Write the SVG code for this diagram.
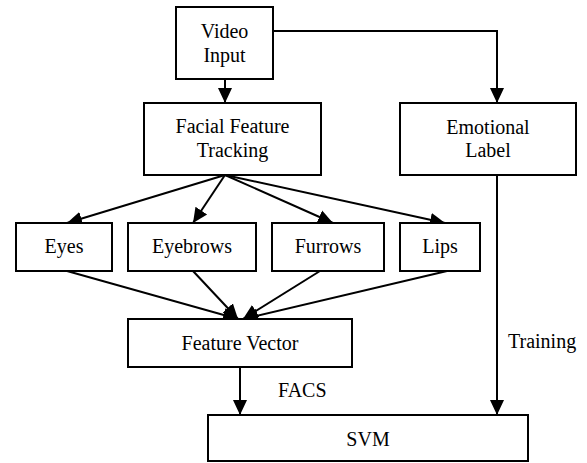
<svg xmlns="http://www.w3.org/2000/svg" width="587" height="463" viewBox="0 0 587 463">
<defs>
<marker id="arr" markerUnits="userSpaceOnUse" markerWidth="16" markerHeight="16" refX="15" refY="8" orient="auto" viewBox="0 0 16 16">
<path d="M0,1 L15,8 L0,15 z" fill="#000"/>
</marker>
</defs>
<rect width="587" height="463" fill="#fff"/>
<g id="connectors" fill="none" stroke="#000" stroke-width="2">
<line x1="225" y1="79" x2="225" y2="103" marker-end="url(#arr)"/>
<polyline points="273,31 497,31 497,103" marker-end="url(#arr)"/>
<line x1="225" y1="175" x2="67" y2="223" marker-end="url(#arr)"/>
<line x1="225" y1="175" x2="193" y2="223" marker-end="url(#arr)"/>
<line x1="225" y1="175" x2="333" y2="223" marker-end="url(#arr)"/>
<line x1="225" y1="175" x2="445" y2="223" marker-end="url(#arr)"/>
<line x1="67" y1="271" x2="238" y2="319" marker-end="url(#arr)"/>
<line x1="193" y1="271" x2="238" y2="319" marker-end="url(#arr)"/>
<line x1="320" y1="271" x2="243" y2="319" marker-end="url(#arr)"/>
<line x1="447" y1="271" x2="243" y2="319" marker-end="url(#arr)"/>
<line x1="240" y1="367" x2="240" y2="415" marker-end="url(#arr)"/>
<line x1="497" y1="175" x2="497" y2="415" marker-end="url(#arr)"/>
<text font-family="Times New Roman" font-size="20" fill="#000" stroke="none" x="278" y="397">FACS</text>
<text font-family="Times New Roman" font-size="20" fill="#000" stroke="none" x="508" y="348">Training</text>
</g>
<g id="nodes" fill="#fff" stroke="#000" stroke-width="2">
<g id="video-input">
<rect x="176" y="7" width="97" height="72"/>
<text font-family="Times New Roman" font-size="20" fill="#000" stroke="none" text-anchor="middle" x="224.5" y="38">Video</text>
<text font-family="Times New Roman" font-size="20" fill="#000" stroke="none" text-anchor="middle" x="224.5" y="62">Input</text>
</g>
<g id="facial-feature-tracking">
<rect x="144" y="103" width="177" height="72"/>
<text font-family="Times New Roman" font-size="20" fill="#000" stroke="none" text-anchor="middle" x="232.5" y="133">Facial Feature</text>
<text font-family="Times New Roman" font-size="20" fill="#000" stroke="none" text-anchor="middle" x="232.5" y="157">Tracking</text>
</g>
<g id="emotional-label">
<rect x="400" y="103" width="176" height="72"/>
<text font-family="Times New Roman" font-size="20" fill="#000" stroke="none" text-anchor="middle" x="488" y="134">Emotional</text>
<text font-family="Times New Roman" font-size="20" fill="#000" stroke="none" text-anchor="middle" x="488" y="157">Label</text>
</g>
<g id="eyes">
<rect x="16" y="223" width="96" height="48"/>
<text font-family="Times New Roman" font-size="20" fill="#000" stroke="none" text-anchor="middle" x="64" y="253">Eyes</text>
</g>
<g id="eyebrows">
<rect x="128" y="223" width="128" height="48"/>
<text font-family="Times New Roman" font-size="20" fill="#000" stroke="none" text-anchor="middle" x="192" y="253">Eyebrows</text>
</g>
<g id="furrows">
<rect x="272" y="223" width="112" height="48"/>
<text font-family="Times New Roman" font-size="20" fill="#000" stroke="none" text-anchor="middle" x="328" y="253">Furrows</text>
</g>
<g id="lips">
<rect x="400" y="223" width="80" height="48"/>
<text font-family="Times New Roman" font-size="20" fill="#000" stroke="none" text-anchor="middle" x="440" y="253">Lips</text>
</g>
<g id="feature-vector">
<rect x="128" y="319" width="224" height="48"/>
<text font-family="Times New Roman" font-size="20" fill="#000" stroke="none" text-anchor="middle" x="240" y="350">Feature Vector</text>
</g>
<g id="svm">
<rect x="208" y="415" width="320" height="46"/>
<text font-family="Times New Roman" font-size="20" fill="#000" stroke="none" text-anchor="middle" x="368" y="446">SVM</text>
</g>
</g>
</svg>
